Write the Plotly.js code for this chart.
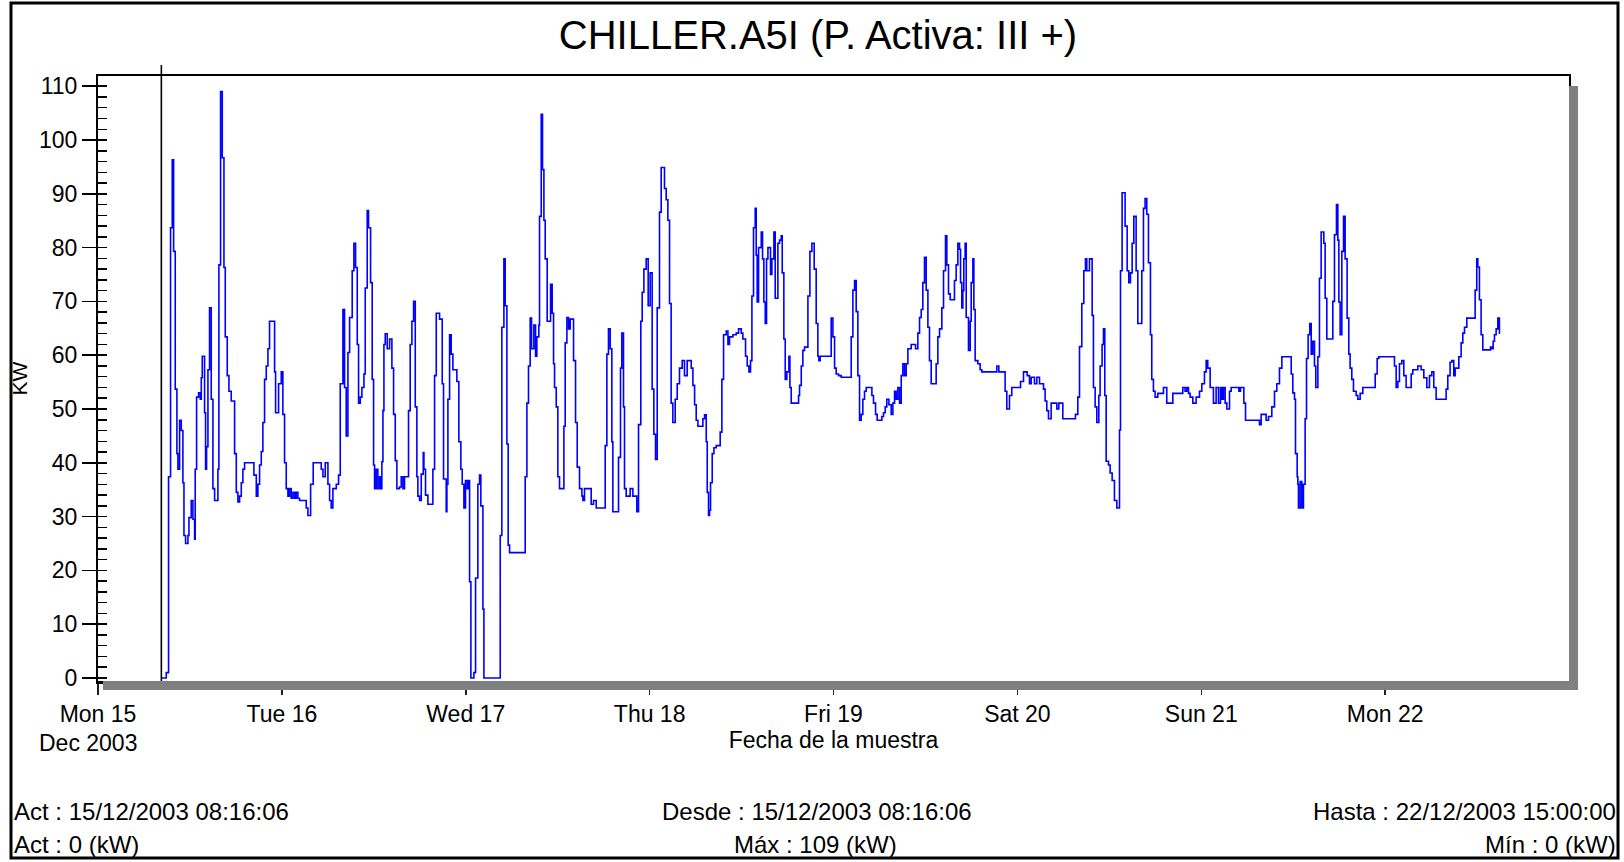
<!DOCTYPE html>
<html>
<head>
<meta charset="utf-8">
<script src="https://cdn.plot.ly/plotly-3.0.1.min.js"></script>
<style>
  html, body { margin: 0; padding: 0; background: #ffffff; }
  #chart { width: 1624px; height: 862px; }
</style>
</head>
<body>
<div id="chart"></div>
<script>
// ---- data (hours since 15/12/2003 00:00, value held until next reading) ----
const hours = [
  8.27, 8.91, 9.21, 9.47, 9.69, 9.87, 10.08, 10.30, 10.43, 10.65,
  10.87, 11.08, 11.22, 11.43, 11.74, 11.87, 12.17, 12.39, 12.61, 12.69,
  12.87, 13.13, 13.35, 13.48, 13.61, 13.91, 14.04, 14.17, 14.35, 14.56,
  14.78, 15.00, 15.22, 15.65, 15.78, 16.00, 16.22, 16.44, 16.61, 16.87,
  17.09, 17.39, 17.83, 18.05, 18.26, 18.48, 18.70, 18.91, 19.13, 20.35,
  20.66, 20.87, 21.09, 21.31, 21.52, 21.74, 21.96, 22.18, 22.39, 23.05,
  23.18, 23.57, 23.92, 24.13, 24.35, 24.57, 24.79, 25.00, 25.22, 25.44,
  25.66, 25.87, 26.09, 26.31, 27.18, 27.40, 27.75, 28.09, 29.14, 29.36,
  29.66, 30.01, 30.23, 30.44, 30.66, 31.10, 31.40, 31.62, 31.97, 32.18,
  32.40, 32.62, 32.84, 33.18, 33.40, 33.62, 33.84, 34.01, 34.23, 34.44,
  34.71, 34.88, 35.14, 35.31, 35.58, 35.79, 35.97, 36.10, 36.31, 36.53,
  36.75, 36.88, 37.05, 37.19, 37.32, 37.49, 37.75, 38.06, 38.36, 38.58,
  38.80, 39.01, 39.36, 39.58, 39.80, 40.01, 40.53, 40.75, 40.97, 41.19,
  41.41, 41.62, 41.75, 41.97, 42.19, 42.45, 42.54, 42.75, 43.06, 43.71,
  43.93, 44.15, 44.58, 44.93, 45.10, 45.45, 45.54, 45.67, 45.89, 46.10,
  46.32, 46.84, 47.10, 47.36, 47.54, 47.76, 47.97, 48.19, 48.32, 48.50,
  48.67, 49.06, 49.28, 49.58, 49.80, 49.97, 50.24, 50.37, 52.50, 52.71,
  52.98, 53.15, 53.37, 53.54, 53.72, 55.76, 55.98, 56.19, 56.41, 56.59,
  56.89, 57.11, 57.28, 57.54, 57.63, 57.85, 58.02, 58.20, 58.37, 58.63,
  59.07, 59.28, 59.46, 59.59, 59.81, 60.02, 60.24, 60.81, 60.98, 61.20,
  61.42, 61.63, 62.07, 62.33, 62.55, 62.85, 63.16, 63.29, 63.50, 64.37,
  64.68, 65.03, 66.20, 66.42, 66.63, 66.85, 67.07, 67.20, 67.94, 68.20,
  68.37, 68.59, 68.72, 68.94, 69.46, 69.81, 70.33, 70.55, 70.85, 71.03,
  71.25, 71.55, 71.81, 72.07, 72.33, 72.55, 72.77, 72.99, 73.29, 73.51,
  73.94, 74.16, 74.38, 74.60, 74.81, 75.03, 75.34, 75.60, 75.90, 76.25,
  76.55, 76.90, 77.43, 77.65, 77.87, 78.08, 78.30, 78.95, 79.17, 79.39,
  79.52, 79.69, 79.82, 79.95, 80.17, 80.39, 80.69, 81.21, 81.43, 81.65,
  82.00, 82.22, 82.43, 82.87, 83.30, 83.61, 83.96, 84.17, 84.52, 84.74,
  84.96, 85.17, 85.35, 85.56, 85.78, 85.91, 86.04, 86.22, 86.57, 86.74,
  86.91, 87.09, 87.26, 87.44, 87.78, 87.96, 88.22, 88.39, 88.74, 88.96,
  89.18, 89.31, 89.52, 89.70, 89.91, 90.18, 90.31, 90.48, 91.44, 91.57,
  91.79, 92.00, 92.22, 92.66, 92.92, 93.18, 93.48, 93.74, 93.96, 94.09,
  94.26, 95.70, 95.92, 96.14, 96.35, 96.66, 97.00, 98.31, 98.53, 98.75,
  98.96, 99.18, 99.40, 99.62, 99.83, 100.05, 100.27, 101.01, 101.22, 101.49,
  101.70, 102.31, 102.53, 102.75, 102.96, 103.23, 103.53, 103.75, 103.97, 104.18,
  104.40, 104.62, 104.84, 105.05, 105.27, 105.49, 105.71, 106.14, 106.71, 107.01,
  107.23, 107.45, 107.66, 107.88, 108.10, 108.32, 108.53, 108.75, 109.40, 109.62,
  109.84, 110.14, 110.36, 110.62, 110.79, 111.01, 111.23, 111.79, 112.01, 112.23,
  112.45, 112.58, 112.75, 112.88, 113.01, 113.18, 113.32, 113.62, 113.84, 113.97,
  114.19, 114.32, 114.49, 114.84, 115.14, 115.36, 117.32, 117.58, 118.40, 118.62,
  118.97, 119.27, 120.41, 120.80, 121.28, 121.58, 121.80, 122.23, 122.54, 122.89,
  123.41, 123.62, 123.84, 124.06, 124.41, 125.15, 125.41, 125.93, 127.58, 127.89,
  128.11, 128.41, 128.67, 128.89, 129.06, 129.41, 129.76, 129.93, 130.15, 130.37,
  130.63, 130.80, 131.06, 131.24, 131.41, 131.59, 131.89, 132.11, 132.37, 132.67,
  132.98, 133.33, 133.46, 133.67, 134.06, 134.33, 134.54, 134.76, 134.98, 135.20,
  135.50, 135.72, 136.24, 136.46, 136.67, 136.89, 137.11, 137.37, 137.54, 137.76,
  137.98, 138.33, 139.07, 139.50, 140.29, 141.59, 141.89, 142.11, 142.33, 142.55,
  142.90, 143.33, 143.77, 144.07, 144.42, 144.64, 144.85, 145.16, 145.59, 145.94,
  146.25, 146.51, 146.69, 146.90, 147.12, 147.34, 147.69, 147.91, 148.91, 149.12,
  149.56, 149.78, 151.60, 151.82, 152.47, 152.78, 153.21, 153.56, 153.86, 154.21,
  154.52, 155.74, 155.95, 156.17, 156.30, 156.52, 156.61, 156.69, 156.91, 157.13,
  157.34, 157.56, 157.74, 157.95, 158.17, 158.35, 158.56, 158.78, 158.95, 159.22,
  159.43, 159.65, 160.00, 160.17, 160.39, 161.17, 161.39, 161.65, 161.83, 161.96,
  162.13, 162.35, 162.57, 162.78, 163.04, 163.26, 163.43, 163.65, 163.87, 164.22,
  164.44, 164.74, 165.09, 166.70, 166.96, 167.18, 169.22, 169.44, 169.66, 169.87,
  170.18, 170.44, 170.74, 171.40, 171.61, 172.27, 172.70, 173.05, 173.44, 173.79,
  174.09, 174.35, 174.66, 175.96, 176.18, 176.48, 176.70, 176.96, 177.14, 177.62,
  177.92, 178.14, 178.36, 178.66, 179.75, 179.96, 180.10, 180.31, 180.53, 180.75,
  181.75, 181.92, 182.10, 182.27, 182.49, 182.71, 182.92, 183.00
];
const kw = [
  0, 1, 37.4, 83.7, 96.3, 79.3, 53.7, 41.7, 38.8, 47.9,
  46, 36.3, 26.5, 25, 26.5, 29.8, 33, 29.5, 25.8, 38.8,
  52.2, 53, 51.8, 55.8, 59.8, 49.3, 38.8, 43, 57.3, 68.8,
  51.8, 35.2, 33, 38.8, 76.8, 109, 96.7, 76.3, 63.4, 56.2,
  53.3, 51.5, 41.7, 34.5, 32.7, 33.8, 36.3, 38.8, 40, 37.7,
  33.8, 36, 39.6, 42.1, 47.5, 55.5, 58, 61.2, 66.3, 56.9,
  49.3, 54.7, 56.9, 49, 40, 35.2, 33.8, 35.2, 33.4, 34.5,
  33.4, 34.5, 33.4, 33, 31.6, 30.2, 36, 40, 38.8, 37.4,
  40, 36, 33, 31.6, 35.2, 36, 37.7, 54.7, 68.5, 54,
  45, 60.5, 67, 75.7, 80.8, 76.3, 62, 51.1, 52.2, 54,
  56.5, 72.5, 86.9, 83.7, 73.5, 55.5, 39.6, 35.2, 38.8, 35.2,
  37.4, 35.2, 40.2, 49.7, 62, 64, 61.2, 63, 57.6, 49,
  40.4, 35.2, 35.5, 37.4, 35.2, 37.4, 49.7, 62, 66.3, 70,
  50.4, 37.4, 33.8, 33, 37.9, 41.9, 38.8, 34, 32.3, 38.8,
  56.2, 67.8, 66.7, 54.7, 37, 30.9, 36, 51.8, 63.8, 60.2,
  57.3, 55.1, 43.9, 38.8, 36, 31.6, 36.7, 35.2, 36.7, 17.9,
  0, 1, 18.6, 36, 37.7, 32, 12.8, 0, 26.5, 65.2,
  77.9, 69.2, 43.5, 24.7, 23.3, 37.4, 51.1, 58, 66.9, 61.2,
  65.6, 59.8, 63.4, 65.6, 85.8, 104.8, 94.5, 85.1, 77.9, 66.3,
  73.2, 67.8, 58.4, 54, 50.4, 37.4, 35.2, 46.8, 62.3, 67,
  64.9, 66.7, 59, 47.5, 39.2, 35.2, 33.8, 33, 35.2, 32.3,
  33, 31.6, 43.2, 60.2, 64.9, 61.2, 43.9, 30.9, 41, 57.6,
  64.1, 50.4, 35.2, 33.8, 35.2, 33.8, 30.9, 47.1, 66.3, 71.7,
  76, 77.9, 69.2, 75.3, 53.7, 45.3, 40.6, 68.8, 86.6, 94.9,
  91, 88.9, 85.1, 69.6, 51.1, 47.5, 51.8, 54.7, 57.6, 59,
  56.2, 59, 57.6, 54.4, 50.8, 47.9, 46.8, 48.2, 48.9, 43.9,
  34.5, 30.2, 31.2, 36.3, 41.7, 42.8, 43.2, 45.7, 55.5, 63.8,
  64.5, 62, 63.4, 63.8, 64.1, 64.9, 64.1, 63, 59.8, 58,
  56.9, 59, 71, 83.7, 87.3, 78.6, 69.9, 80, 82.9, 77.9,
  69.9, 65.9, 77.9, 80, 75, 77.9, 82.9, 70.6, 80.8, 81.4,
  82.2, 75.3, 63, 55.5, 56.9, 59.8, 54, 51.1, 52.5, 54.4,
  58, 60.9, 61.5, 71, 79.3, 80.8, 76, 65.9, 59.8, 59,
  59.8, 66.9, 63.4, 57.6, 56.5, 56.2, 55.9, 63.4, 72.1, 73.9,
  68.1, 56.2, 47.9, 49, 51.8, 53.3, 54, 52.5, 51.1, 49,
  47.9, 48.6, 49.3, 50.4, 51.8, 50.8, 49, 51.1, 53.3, 51.8,
  54, 51.1, 56.2, 58.4, 56.2, 58.4, 61.2, 62, 61.2, 64.1,
  67, 68.5, 73.5, 78.2, 72.1, 65.2, 59, 54.7, 58.4, 63.4,
  64.9, 68.8, 75.7, 82.2, 76.8, 71.4, 70.3, 73.9, 76.8, 80.8,
  79.7, 73.5, 68.8, 72, 77.9, 80.8, 67, 60.9, 66.3, 73.5,
  77.9, 68.5, 59, 58.4, 57.3, 56.9, 58, 56.9, 53.3, 50,
  52.5, 54, 55.1, 56.9, 56.2, 54.7, 55.9, 54.7, 55.9, 54.7,
  53.7, 51.5, 49.7, 48.2, 51.1, 50, 51.1, 48.2, 49, 52.2,
  61.6, 69.6, 75.7, 77.9, 75.7, 77.9, 67.4, 54, 50.4, 47.5,
  52.5, 58, 62, 64.9, 52.5, 40.3, 39.6, 38.1, 36.7, 33,
  31.6, 46.1, 75.7, 90.2, 84, 75.7, 73.5, 75.3, 80.8, 85.8,
  75.7, 65.9, 75.7, 87.3, 89.1, 86.2, 77.2, 63.8, 55.5, 53.3,
  52.2, 52.9, 54, 51.1, 52.9, 54, 53.3, 54, 52.9, 52.2,
  51.1, 52.2, 53.3, 54.7, 56.9, 59, 57.6, 54, 51.1, 54,
  51.1, 54, 51.8, 54, 51.1, 50, 53.3, 54, 53.3, 54,
  51.1, 47.9, 47.1, 49, 47.9, 48.6, 50.4, 53.3, 54.7, 57.6,
  59.7, 56.5, 53, 51.8, 41.7, 37.4, 36, 31.6, 36.5, 31.6,
  36, 48.2, 59.4, 63.8, 65.9, 60.2, 62.6, 58, 54, 59.7,
  74.3, 82.9, 80.8, 70.6, 63, 70, 82.4, 88, 81.4, 69.9,
  63.8, 79.3, 85.8, 77.9, 66.9, 60.2, 57.6, 55.5, 53.3, 52.5,
  51.8, 52.9, 54, 56.5, 59.4, 59.7, 58, 54, 55.1, 58.4,
  59, 56.2, 54, 56.5, 57.3, 58, 57.3, 55.8, 54, 56.2,
  56.9, 54, 51.8, 53.7, 56.2, 58.7, 59, 56.2, 57.6, 59.7,
  62.3, 64.1, 65.2, 66.9, 72.1, 77.9, 76.4, 70.3, 63.8, 61,
  61.5, 61.2, 62.6, 63.8, 64.9, 66.9, 64.1, 64.1
];
const dayTicks = ['2003-12-15', '2003-12-16', '2003-12-17', '2003-12-18', '2003-12-19', '2003-12-20', '2003-12-21', '2003-12-22'];
const dayLabels = ['Mon 15', 'Tue 16', 'Wed 17', 'Thu 18', 'Fri 19', 'Sat 20', 'Sun 21', 'Mon 22'];
const yTicks = [0, 10, 20, 30, 40, 50, 60, 70, 80, 90, 100, 110];
const xRange = ['2003-12-15 00:00:00', '2003-12-23 00:00:00'];
const yRange = [-0.56, 111.9];
const actTime = '2003-12-15 08:16:06';
const chartTitle = 'CHILLER.A5I (P. Activa: III +)';
const xTitle = 'Fecha de la muestra';
const yTitle = 'KW';
const monthLabel = 'Dec 2003';
const footerTop = ['Act : 15/12/2003 08:16:06', 'Desde : 15/12/2003 08:16:06', 'Hasta : 22/12/2003 15:00:00'];
const footerBottom = ['Act : 0 (kW)', 'Máx : 109 (kW)', 'Mín : 0 (kW)'];

// ---- build ----
const base = Date.UTC(2003, 11, 15, 0, 0, 0);
function stamp(h) {
  const d = new Date(base + Math.round(h * 3600000));
  return d.toISOString().slice(0, 19).replace('T', ' ');
}
const xs = hours.map(stamp);

// plot area in pixels
const L = 98, T = 76, W = 1471, H = 605;
const px = x => (x - L) / W;
const py = y => (T + H - y) / H;

const FONT = 'Liberation Sans, Arial, sans-serif';

const trace = {
  type: 'scatter', mode: 'lines', x: xs, y: kw,
  line: { color: '#0000FF', width: 1.6, shape: 'hv' },
  hoverinfo: 'skip', showlegend: false
};

const layout = {
  width: 1624, height: 862,
  margin: { l: L, r: 1624 - L - W, t: T, b: 862 - T - H, pad: 0 },
  paper_bgcolor: '#ffffff', plot_bgcolor: '#ffffff',
  font: { family: FONT, color: '#000000', size: 22 },
  showlegend: false,
  title: { text: chartTitle, font: { family: FONT, size: 40, color: '#000' },
           xref: 'container', x: 0.5037, xanchor: 'center',
           yref: 'container', y: 1 - 35 / 862, yanchor: 'middle' },
  xaxis: {
    type: 'date', range: xRange, tickvals: dayTicks, ticktext: dayLabels,
    ticks: 'outside', ticklen: 11, tickwidth: 1.5, tickcolor: '#222',
    showline: true, mirror: true, linecolor: '#000', linewidth: 2.5,
    showgrid: false, zeroline: false, automargin: false,
    tickfont: { size: 23 },
    title: { text: xTitle, font: { size: 23 }, standoff: 5 }
  },
  xaxis2: {
    type: 'date', range: xRange, tickvals: dayTicks, overlaying: 'x', anchor: 'y',
    ticks: 'inside', ticklen: 14, tickwidth: 1.5, tickcolor: '#222',
    showticklabels: false, showline: false, showgrid: false, zeroline: false
  },
  yaxis: {
    range: yRange, tickvals: yTicks,
    ticks: 'outside', ticklen: 14, tickwidth: 1.5, tickcolor: '#000',
    minor: { dtick: 2, tick0: 0, ticks: 'inside', ticklen: 9, tickwidth: 1.5, tickcolor: '#000', showgrid: false },
    showline: true, mirror: true, linecolor: '#000', linewidth: 2,
    showgrid: false, zeroline: false, automargin: false,
    tickfont: { size: 23 },
    title: { text: yTitle, font: { size: 21 }, standoff: 6 }
  },
  yaxis2: {
    range: yRange, tickvals: yTicks, overlaying: 'y', anchor: 'x', side: 'left',
    ticks: 'inside', ticklen: 9, tickwidth: 1.5, tickcolor: '#000',
    showticklabels: false, showline: false, showgrid: false, zeroline: false
  },
  shapes: [
    // outer frame
    { type: 'rect', xref: 'paper', yref: 'paper', x0: px(11), x1: px(1618), y0: py(858), y1: py(3),
      line: { color: '#000', width: 3 }, fillcolor: 'rgba(0,0,0,0)', layer: 'above' },
    // frame shadow: right strip and bottom bar
    { type: 'rect', xref: 'paper', yref: 'paper', x0: px(1569), x1: px(1578), y0: py(690), y1: py(86),
      line: { width: 0 }, fillcolor: '#808080', layer: 'above' },
    { type: 'rect', xref: 'paper', yref: 'paper', x0: px(103), x1: px(1578), y0: py(690), y1: py(681),
      line: { width: 0 }, fillcolor: '#808080', layer: 'above' },
    // cursor at the first sample
    { type: 'line', xref: 'x', yref: 'paper', x0: actTime, x1: actTime, y0: 0, y1: py(65),
      line: { color: '#000', width: 1.6 }, layer: 'above' }
  ],
  annotations: [
    { text: monthLabel, xref: 'paper', yref: 'paper', x: px(88), y: py(743), xanchor: 'center', yanchor: 'middle',
      showarrow: false, font: { size: 23 } },
    { text: footerTop[0], xref: 'paper', yref: 'paper', x: px(12), y: py(811), xanchor: 'left', yanchor: 'middle', showarrow: false, font: { size: 24 } },
    { text: footerTop[1], xref: 'paper', yref: 'paper', x: px(817), y: py(811), xanchor: 'center', yanchor: 'middle', showarrow: false, font: { size: 24 } },
    { text: footerTop[2], xref: 'paper', yref: 'paper', x: px(1618), y: py(811), xanchor: 'right', yanchor: 'middle', showarrow: false, font: { size: 24 } },
    { text: footerBottom[0], xref: 'paper', yref: 'paper', x: px(12), y: py(844), xanchor: 'left', yanchor: 'middle', showarrow: false, font: { size: 24 } },
    { text: footerBottom[1], xref: 'paper', yref: 'paper', x: px(815), y: py(844), xanchor: 'center', yanchor: 'middle', showarrow: false, font: { size: 24 } },
    { text: footerBottom[2], xref: 'paper', yref: 'paper', x: px(1618), y: py(844), xanchor: 'right', yanchor: 'middle', showarrow: false, font: { size: 24 } }
  ]
};

Plotly.newPlot('chart', [trace], layout, { staticPlot: true, displayModeBar: false });
</script>
</body>
</html>
